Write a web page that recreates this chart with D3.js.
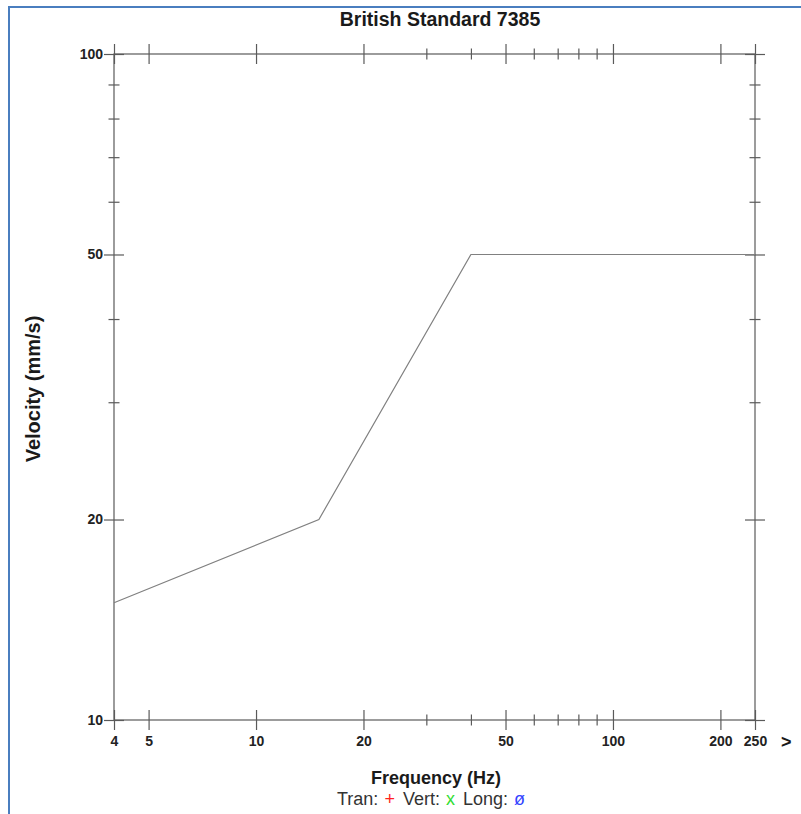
<!DOCTYPE html>
<html>
<head>
<meta charset="utf-8">
<script src="https://cdn.jsdelivr.net/npm/d3@7"></script>
<style>
  html, body { margin: 0; padding: 0; background: #fff; }
  svg { display: block; font-family: "Liberation Sans", Arial, sans-serif; }
</style>
</head>
<body>
<svg id="chart" width="801" height="814"></svg>
<script>
// Frequency axis ticks (Hz)
const freqMajorTicks = [4, 5, 10, 20, 50, 100, 200, 250];
const freqTickLabels = ["4", "5", "10", "20", "50", "100", "200", "250"];
const freqMinorTicks = [30, 40, 60, 70, 80, 90];

// Velocity axis ticks (mm/s)
const velMajorTicks = [10, 20, 50, 100];
const velTickLabels = ["10", "20", "50", "100"];
const velMinorTicks = [30, 40, 60, 70, 80, 90];

// BS 7385 guide curve: frequency (Hz) vs peak particle velocity (mm/s)
const limitFreq = [4, 15, 40, 250];
const limitVel = [15, 20, 50, 50];

// Legend entries
const legendNames = ["Tran:", "Vert:", "Long:"];
const legendSymbols = ["+", "x", "\u00f8"];
const legendColors = ["#ff2020", "#33dd33", "#3344ff"];

const svg = d3.select("#chart");
const plot = { left: 114, right: 755, top: 54, bottom: 720 };
const axisColor = "#5a5a5a";

const x = d3.scaleLog().domain([4, 250]).range([plot.left, plot.right]);
const y = d3.scaleLog().domain([10, 100]).range([plot.bottom, plot.top]);

// page frame
svg.append("path")
  .attr("d", "M9,814 V7 H801")
  .attr("fill", "none")
  .attr("stroke", "#4a7ebf")
  .attr("stroke-width", 2);

// plot frame
svg.append("rect")
  .attr("x", plot.left).attr("y", plot.top)
  .attr("width", plot.right - plot.left)
  .attr("height", plot.bottom - plot.top)
  .attr("fill", "none")
  .attr("stroke", axisColor)
  .attr("stroke-width", 1.2);

// crossing ticks: a pair of axes per side, one pointing out and one in
function styleAxis(g) {
  g.select(".domain").remove();
  g.selectAll(".tick line").attr("stroke", axisColor).attr("stroke-width", 1.2);
  g.selectAll(".tick text")
    .attr("fill", "#222")
    .attr("font-size", 14)
    .attr("font-weight", "bold")
    .attr("font-family", "Liberation Sans, Arial, sans-serif");
}

function crossTicks(axisA, axisB, values, size, transform, fmt) {
  svg.append("g").attr("transform", transform)
    .call(axisA.tickValues(values).tickSize(size).tickFormat(fmt || (() => "")))
    .call(styleAxis);
  svg.append("g").attr("transform", transform)
    .call(axisB.tickValues(values).tickSize(size).tickFormat(() => ""))
    .call(styleAxis);
}

// bottom axis (labelled) and top axis
crossTicks(d3.axisBottom(x).tickPadding(6), d3.axisTop(x), freqMajorTicks, 10,
  `translate(0,${plot.bottom})`, (d, i) => freqTickLabels[i]);
crossTicks(d3.axisBottom(x), d3.axisTop(x), freqMinorTicks, 5.5,
  `translate(0,${plot.bottom})`);
crossTicks(d3.axisBottom(x), d3.axisTop(x), freqMajorTicks, 10,
  `translate(0,${plot.top})`);
crossTicks(d3.axisBottom(x), d3.axisTop(x), freqMinorTicks, 5.5,
  `translate(0,${plot.top})`);

// left axis (labelled) and right axis
crossTicks(d3.axisLeft(y).tickPadding(1), d3.axisRight(y), velMajorTicks, 10,
  `translate(${plot.left},0)`, (d, i) => velTickLabels[i]);
crossTicks(d3.axisLeft(y), d3.axisRight(y), velMinorTicks, 5.5,
  `translate(${plot.left},0)`);
crossTicks(d3.axisLeft(y), d3.axisRight(y), velMajorTicks, 10,
  `translate(${plot.right},0)`);
crossTicks(d3.axisLeft(y), d3.axisRight(y), velMinorTicks, 5.5,
  `translate(${plot.right},0)`);

// guide curve
const limitPoints = limitFreq.map((f, i) => [f, limitVel[i]]);
svg.append("path")
  .datum(limitPoints)
  .attr("d", d3.line().x(d => x(d[0])).y(d => y(d[1])))
  .attr("fill", "none")
  .attr("stroke", "#808080")
  .attr("stroke-width", 1.2);

// titles
svg.append("text")
  .attr("x", 440).attr("y", 26)
  .attr("text-anchor", "middle")
  .attr("font-size", 19.5).attr("font-weight", "bold").attr("fill", "#1a1a1a")
  .text("British Standard 7385");

svg.append("text")
  .attr("x", 436).attr("y", 784)
  .attr("text-anchor", "middle")
  .attr("font-size", 18).attr("font-weight", "bold").attr("fill", "#1a1a1a")
  .text("Frequency (Hz)");

svg.append("text")
  .attr("transform", "translate(40,389) rotate(-90)")
  .attr("text-anchor", "middle")
  .attr("font-size", 20).attr("font-weight", "bold").attr("fill", "#1a1a1a")
  .text("Velocity (mm/s)");

svg.append("text")
  .attr("x", 781).attr("y", 748)
  .attr("font-size", 18).attr("font-weight", "bold").attr("fill", "#1a1a1a")
  .text(">");

// legend line
const legend = svg.append("text")
  .attr("x", 431).attr("y", 805)
  .attr("text-anchor", "middle")
  .attr("font-size", 18).attr("fill", "#333");
legendNames.forEach((name, i) => {
  legend.append("tspan").attr("dx", i ? 8 : 0).text(name);
  legend.append("tspan").attr("dx", 6).attr("fill", legendColors[i]).text(legendSymbols[i]);
});
</script>
</body>
</html>
